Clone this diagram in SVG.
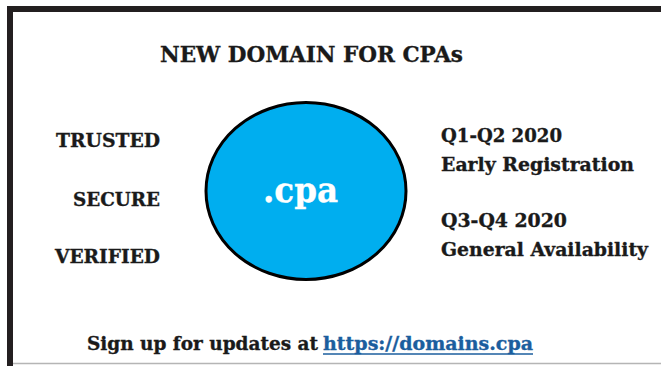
<svg xmlns="http://www.w3.org/2000/svg" width="661" height="366" viewBox="0 0 661 366">
<style>
text{font-family:"DejaVu Serif","Liberation Serif",serif;font-weight:bold;fill:#1a1a1a;stroke:#1a1a1a;stroke-width:0.35}
.lbl{font-size:18px}
.side{font-size:18px}
.w{fill:#fff;stroke:#fff}
.lnk{fill:#1b5e9e;stroke:#1b5e9e}
</style>
<rect width="661" height="366" fill="#fff"/>
<g id="frame">
<rect x="7" y="6" width="654" height="6" fill="#231f20"/>
<rect x="7" y="6" width="6" height="360" fill="#231f20"/>
<line x1="13" y1="363.5" x2="661" y2="363.5" stroke="#b5b5b5" stroke-width="1.5"/>
</g>
<g id="title"><text x="160" y="62" font-size="23" textLength="303" lengthAdjust="spacingAndGlyphs">NEW DOMAIN FOR CPAs</text></g>
<g id="trusted"><text class="lbl" x="56" y="147" textLength="104" lengthAdjust="spacingAndGlyphs">TRUSTED</text></g>
<g id="secure"><text class="lbl" x="73" y="206" textLength="87" lengthAdjust="spacingAndGlyphs">SECURE</text></g>
<g id="verified"><text class="lbl" x="55" y="263" textLength="105" lengthAdjust="spacingAndGlyphs">VERIFIED</text></g>
<g id="cpa">
<ellipse cx="306" cy="191" rx="100" ry="88.5" fill="#00aeef" stroke="#000" stroke-width="3"/>
<text class="w" x="263" y="202" font-size="36" textLength="75" lengthAdjust="spacingAndGlyphs">.cpa</text>
</g>
<g id="q1">
<text class="side" x="441" y="142" textLength="121" lengthAdjust="spacingAndGlyphs">Q1-Q2 2020</text>
<text class="side" x="441" y="171" textLength="193" lengthAdjust="spacingAndGlyphs">Early Registration</text>
</g>
<g id="q3">
<text class="side" x="441" y="227" textLength="126" lengthAdjust="spacingAndGlyphs">Q3-Q4 2020</text>
<text class="side" x="441" y="256" textLength="207" lengthAdjust="spacingAndGlyphs">General Availability</text>
</g>
<g id="signup">
<text x="87" y="350" font-size="19" textLength="231" lengthAdjust="spacingAndGlyphs">Sign up for updates at</text>
<text class="lnk" x="323" y="350" font-size="19" textLength="210" lengthAdjust="spacingAndGlyphs">https://domains.cpa</text>
<line x1="323" y1="354" x2="533" y2="354" stroke="#1b5e9e" stroke-width="1.5"/>
</g>
</svg>
